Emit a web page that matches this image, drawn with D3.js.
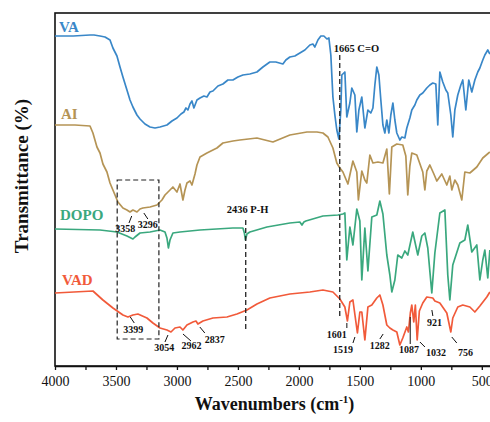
<!DOCTYPE html>
<meta charset="utf-8">
<script src="https://d3js.org/d3.v7.min.js"></script>
<style>
  body { margin: 0; background: #fff; }
  svg text { font-family: "Liberation Serif", "Times New Roman", serif; }
</style>
<div id="my_dataviz"></div>

<script>
// FTIR spectra, [wavenumber (cm-1), transmittance (offset, a.u.)]
var va = [[4000,330],[3850,330],[3713,331],[3680,331],[3631,330],[3590,329],[3549,326],[3525,318],[3492,310],[3467,299],
  [3443,289],[3410,276],[3385,266],[3361,259],[3328,251],[3303,247],[3262,242],[3221,239],[3180,238],[3139,239],
  [3082,241],[3041,245],[3000,248],[2967,252],[2943,254],[2926,258],[2910,256],[2893,262],[2877,265],[2861,258],
  [2836,266],[2811,268],[2779,270],[2754,269],[2729,274],[2705,275],[2664,280],[2623,282],[2582,286],[2541,286],
  [2500,289],[2459,291],[2402,292],[2344,294],[2295,299],[2238,304],[2189,304],[2131,302],[2107,306],[2074,309],
  [2033,310],[1992,313],[1951,316],[1910,321],[1885,322],[1869,319],[1844,326],[1820,330],[1795,330],[1770,327],
  [1754,328],[1738,311],[1721,269],[1705,251],[1689,236],[1672,227],[1656,256],[1648,291],[1623,294],[1607,249],
  [1582,263],[1566,278],[1541,271],[1525,234],[1508,256],[1484,269],[1459,238],[1434,256],[1410,253],[1393,258],
  [1377,281],[1361,299],[1344,291],[1328,266],[1311,241],[1295,233],[1279,246],[1262,233],[1246,251],[1229,263],
  [1213,246],[1197,233],[1172,226],[1156,229],[1131,228],[1115,238],[1090,248],[1074,256],[1049,261],[1033,266],
  [1008,271],[984,273],[951,278],[926,281],[902,283],[877,282],[861,241],[844,294],[820,284],[795,276],
  [779,273],[754,251],[738,229],[721,256],[697,271],[672,281],[656,286],[631,256],[607,286],[582,274],
  [557,286],[533,294],[516,298],[492,306],[475,311],[451,316],[434,312]];

var ai = [[4000,241],[3836,241],[3713,240],[3689,233],[3656,219],[3631,213],[3607,202],[3574,194],[3549,183],[3525,176],
  [3484,164],[3443,158],[3410,156],[3385,154],[3361,156],[3344,155],[3328,154],[3303,157],[3279,158],[3221,159],
  [3164,161],[3123,166],[3098,171],[3057,176],[3033,179],[3000,174],[2975,182],[2951,166],[2934,176],[2918,183],
  [2893,185],[2877,181],[2852,192],[2836,201],[2811,209],[2754,213],[2672,218],[2623,223],[2541,225],[2484,226],
  [2344,228],[2279,226],[2213,224],[2074,231],[1934,234],[1852,234],[1803,233],[1762,229],[1721,218],[1689,203],
  [1664,198],[1639,194],[1598,182],[1557,205],[1525,194],[1512,166],[1484,195],[1459,186],[1443,183],[1418,211],
  [1393,203],[1352,204],[1311,203],[1279,217],[1258,172],[1238,219],[1197,222],[1148,221],[1123,210],[1107,171],
  [1090,200],[1074,213],[1033,211],[984,194],[967,176],[951,195],[926,201],[893,192],[869,185],[828,192],
  [787,181],[762,190],[746,176],[721,186],[697,181],[664,166],[639,194],[598,193],[541,199],[492,208],[434,214]];

var dopo = [[4000,137],[3631,136],[3492,134],[3410,130],[3377,128],[3361,127],[3344,129],[3303,133],[3221,134],[3139,136],
  [3098,134],[3082,128],[3070,118],[3057,126],[3033,133],[2975,134],[2811,136],[2541,138],[2459,138],[2447,133],
  [2439,126],[2426,132],[2402,134],[2262,139],[2074,143],[1992,144],[1975,141],[1959,144],[1943,145],[1803,150],
  [1680,151],[1639,152],[1623,153],[1607,106],[1582,139],[1557,121],[1525,157],[1500,145],[1484,86],[1459,138],
  [1434,95],[1402,149],[1361,151],[1336,165],[1311,152],[1279,111],[1254,91],[1238,74],[1213,86],[1189,111],
  [1156,108],[1131,115],[1107,111],[1066,134],[1025,111],[992,130],[967,133],[943,118],[910,73],[885,113],
  [844,153],[803,156],[779,91],[762,66],[738,101],[680,123],[639,126],[615,141],[582,114],[541,121],
  [516,86],[492,106],[475,116],[451,88],[434,116]];

var vad = [[4000,73],[3689,75],[3607,66],[3525,58],[3443,51],[3402,49],[3361,51],[3320,52],[3246,48],[3197,43],
  [3139,38],[3082,36],[3049,34],[3016,38],[2975,39],[2951,36],[2918,41],[2869,44],[2844,45],[2828,42],
  [2787,45],[2705,48],[2590,49],[2508,52],[2426,56],[2344,62],[2238,68],[2074,72],[1910,74],[1803,76],
  [1721,74],[1664,67],[1623,59],[1602,45],[1582,64],[1557,66],[1520,33],[1500,54],[1484,54],[1459,26],
  [1434,59],[1402,61],[1361,68],[1336,71],[1311,61],[1279,41],[1254,38],[1229,36],[1197,34],[1172,21],
  [1148,28],[1115,39],[1102,34],[1086,53],[1074,61],[1058,44],[1045,61],[1030,26],[1012,55],[984,63],
  [951,69],[902,68],[885,65],[844,63],[787,53],[754,34],[738,48],[697,59],[656,61],[598,59],
  [557,54],[516,60],[459,69],[434,74]];

var seriesNames = ["VA", "AI", "DOPO", "VAD"];
var seriesColors = ["#3987c8", "#b59455", "#3aa87e", "#f15a3a"];
var xTicks = d3.range(4000, 399, -250);
var peaks = [3358, 3296, 3399, 3054, 2962, 2837, 1601, 1519, 1282, 1087, 1032, 921, 756];
var bands = [{wn: 1665, text: "1665 C=O"}, {wn: 2436, text: "2436 P-H"}];
var boxRange = [3490, 3148];

// set the dimensions and margins of the graph
var margin = {top: 13, right: 0, bottom: 56, left: 55},
    width = 439,
    height = 353;

var svg = d3.select("#my_dataviz")
  .append("svg")
    .attr("width", 490)
    .attr("height", 422)
  .append("g")
    .attr("transform", "translate(" + margin.left + "," + margin.top + ")");

var x = d3.scaleLinear().domain([4000, 400]).range([0, width]);
var y = d3.scaleLinear().domain([0, 353]).range([height, 0]);

// frame
svg.append("rect")
  .attr("width", width).attr("height", height)
  .attr("fill", "none").attr("stroke", "#111").attr("stroke-width", 1.6);

// X axis
var xAxis = svg.append("g")
  .attr("transform", "translate(0," + height + ")")
  .call(d3.axisBottom(x).tickValues(xTicks).tickSize(4).tickSizeOuter(0).tickPadding(6)
    .tickFormat(function(d) { return d % 500 === 0 ? d : ""; }));
xAxis.select(".domain").attr("stroke", "#111").attr("stroke-width", 1.6);
xAxis.selectAll(".tick line").attr("stroke", "#111").attr("stroke-width", 1.3);
xAxis.selectAll("text").attr("font-size", 14).attr("fill", "#111")
  .style("font-family", "'Liberation Serif', serif");

// axis titles
var xt = svg.append("text")
  .attr("x", width / 2).attr("y", height + 44)
  .attr("text-anchor", "middle").attr("font-size", 18).attr("font-weight", "bold").attr("fill", "#111");
xt.append("tspan").text("Wavenumbers (cm");
xt.append("tspan").attr("font-size", 11).attr("dy", -7).text("-1");
xt.append("tspan").attr("dy", 7).text(")");

svg.append("text")
  .attr("transform", "translate(-27," + 163 + ")rotate(-90)")
  .attr("text-anchor", "middle").attr("font-size", 19).attr("font-weight", "bold").attr("fill", "#111")
  .text("Transmittance (%)");

// spectra
var line = d3.line()
  .x(function(d) { return x(d[0]); })
  .y(function(d) { return y(d[1]); });

var spectra = [va, ai, dopo, vad];
spectra.forEach(function(s, i) {
  svg.append("path")
    .datum(s)
    .attr("fill", "none")
    .attr("stroke", seriesColors[i])
    .attr("stroke-width", 1.7)
    .attr("stroke-linejoin", "round")
    .attr("d", line);
});

// series labels
var nameY = [19, 106, 207, 272];
seriesNames.forEach(function(n, i) {
  svg.append("text")
    .attr("x", [4, 6, 5, 7][i]).attr("y", nameY[i])
    .attr("font-size", 15).attr("font-weight", "bold")
    .attr("fill", seriesColors[i])
    .text(n);
});

// dashed guides
var dash = "5,3";
svg.append("rect")
  .attr("x", x(boxRange[0])).attr("y", 167)
  .attr("width", x(boxRange[1]) - x(boxRange[0])).attr("height", 159)
  .attr("fill", "none").attr("stroke", "#222").attr("stroke-width", 1.2).attr("stroke-dasharray", dash);

var bandLayout = {1665: {y1: 42, y2: 305, tx: -6, ty: 39}, 2436: {y1: 207, y2: 317, tx: -19, ty: 200}};
bands.forEach(function(b) {
  var L = bandLayout[b.wn];
  svg.append("line")
    .attr("x1", x(b.wn)).attr("x2", x(b.wn)).attr("y1", L.y1).attr("y2", L.y2)
    .attr("stroke", "#222").attr("stroke-width", 1.3).attr("stroke-dasharray", dash);
  svg.append("text")
    .attr("x", x(b.wn) + L.tx).attr("y", L.ty)
    .attr("font-size", 10.5).attr("font-weight", "bold").attr("fill", "#111")
    .text(b.text);
});

// peak labels: leader [dx1, y1, dx2, y2], text [dx, y]
var peakLayout = {
  3358: [[-1.6, 203, -4.3, 210], [-8, 219]],
  3296: [[3, 200, 7, 206], [7, 215]],
  3399: [[2, 304, 6, 310], [5, 320]],
  3054: [[-2.4, 322, -5.4, 329], [-6, 338]],
  2962: [[1.4, 321, 9.4, 328], [10, 336]],
  2837: [[3, 314, 8, 320], [18, 330]],
  1601: [[-0.7, 310, -0.7, 315], [-10.7, 325]],
  1519: [[-2.6, 324, -4.6, 330], [-14.6, 340]],
  1282: [[-3.3, 321, -6.6, 326], [-6.6, 336]],
  1087: [[0, 304, 0, 331], [-1.3, 340]],
  1032: [[3, 329, 8, 334], [19, 343]],
  921:  [[1.4, 297, 2.4, 303], [4, 313]],
  756:  [[1.2, 324, 6.2, 330], [15, 343]]
};
peaks.forEach(function(p) {
  var L = peakLayout[p];
  svg.append("line")
    .attr("x1", x(p) + L[0][0]).attr("y1", L[0][1])
    .attr("x2", x(p) + L[0][2]).attr("y2", L[0][3])
    .attr("stroke", "#111").attr("stroke-width", 1);
  svg.append("text")
    .attr("x", x(p) + L[1][0]).attr("y", L[1][1])
    .attr("text-anchor", "middle")
    .attr("font-size", 10).attr("font-weight", "bold").attr("fill", "#111")
    .text(p);
});
</script>
